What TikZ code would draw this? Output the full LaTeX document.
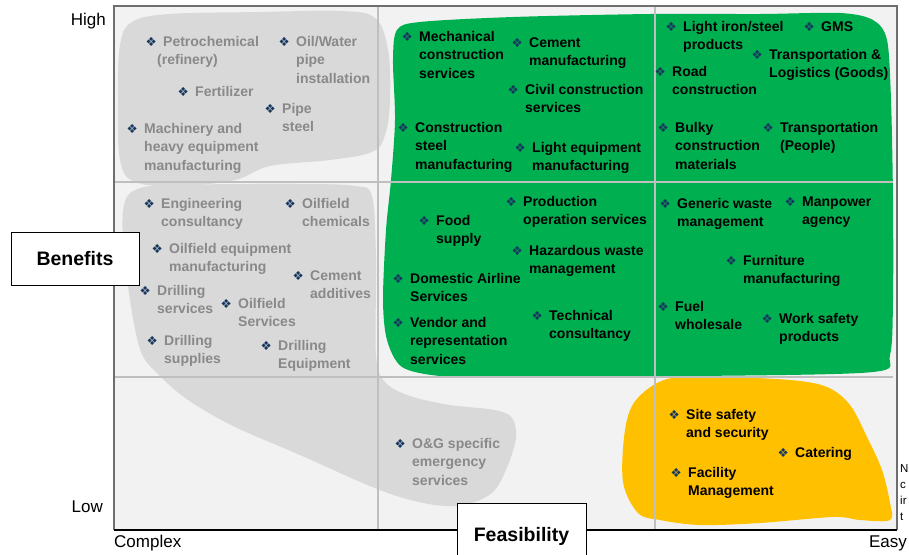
\documentclass[tikz,border=0pt]{standalone}
\usepackage{fontspec}
\setmainfont{Liberation Sans}
\newfontfamily\bulfont{DejaVu Sans}
\definecolor{plotbg}{HTML}{F2F2F2}
\definecolor{gridc}{HTML}{BFBFBF}
\definecolor{frame}{HTML}{6E6E6E}
\definecolor{blobgray}{HTML}{D9D9D9}
\definecolor{blobgreen}{HTML}{00B050}
\definecolor{blobyellow}{HTML}{FFC000}
\definecolor{graytxt}{HTML}{898989}
\definecolor{bulblue}{HTML}{17375E}
\newcommand\itm[5]{%
  \node[#4, anchor=base west] (#1) at (#2,#3) {\begin{tabular}[t]{@{}l@{}}#5\end{tabular}};
  \node[bul, anchor=base east] (#1-b) at ([xshift=-6pt]#1.base west) {❖};
}
\begin{document}
\begin{tikzpicture}[x=1pt,y=-1pt,
  gi/.style={inner sep=0pt, text=graytxt, font=\fontsize{14}{18.5}\selectfont\bfseries},
  bi/.style={inner sep=0pt, text=black, font=\fontsize{14}{18.5}\selectfont\bfseries},
  bul/.style={inner sep=0pt, text=bulblue, font=\fontsize{12.5}{14}\bulfont},
  axl/.style={inner sep=0pt, font=\fontsize{17}{20}\selectfont},
  titlebox/.style={draw=black, fill=white, line width=0.8pt, inner sep=0pt,
    font=\fontsize{19.5}{22}\selectfont\bfseries},
  gridline/.style={draw=gridc, line width=1.1pt}]
\useasboundingbox (0,0) rectangle (909,554);
\clip (0,0) rectangle (909,554);

% plot area
\fill[plotbg] (114,6) rectangle (897,530);

% blobs
\fill[blobgray] plot[smooth cycle, tension=0.6] coordinates {
  (120,45) (132,22) (170,14) (260,12) (340,11) (375,18) (388,50) (390,100)
  (385,135) (372,152) (330,160) (270,166) (235,180) (180,186) (135,182) (120,160) (118,100)};
\fill[blobgray] plot[smooth cycle, tension=0.55] coordinates {
  (135,190) (170,185) (300,184) (355,186) (372,196) (376,260) (376,355) (385,382)
  (410,396) (450,405) (495,410) (512,418) (516,437) (508,465) (493,492) (465,505)
  (435,505) (400,497) (365,484) (300,455) (233,426) (188,400) (160,376) (141,352)
  (130,300) (123,240) (124,205)};
\fill[blobgreen] plot[smooth cycle, tension=0.5] coordinates {
  (397,30) (420,22) (513,17) (650,14) (760,14) (840,13) (873,20) (887,40) (891,100)
  (893,200) (893,300) (890,355) (873,372) (700,376) (500,377) (440,376) (402,367)
  (387,340) (383,300) (386,230) (391,180) (395,120) (393,60)};
\fill[blobyellow] plot[smooth cycle, tension=0.55] coordinates {
  (667,379) (720,377) (790,380) (827,387) (850,405) (867,437) (882,470) (890,503)
  (890,520) (860,520) (833,517) (760,523) (700,525) (660,520) (638,513) (623,482)
  (625,430) (636,400)};

% grid lines
\draw[gridline] (378,6) -- (378,530);
\draw[gridline] (655,6) -- (655,530);
\draw[gridline] (114,182) -- (893,182);
\draw[gridline] (114,377) -- (893,377);

% frame
\draw[frame, line width=1.3pt] (114,530) -- (114,6) -- (897,6) -- (897,530);
\draw[black, line width=1.3pt] (114,530) -- (897,530);

% gray items, top-left
\itm{petro}{163}{46}{gi}{Petrochemical\\\hspace*{-6pt}(refinery)}
\itm{oilw}{296}{46}{gi}{Oil/Water\\pipe\\installation}
\itm{fert}{195}{96}{gi}{Fertilizer}
\itm{pipe}{282}{113}{gi}{Pipe\\steel}
\itm{mach}{144}{133}{gi}{Machinery and\\heavy equipment\\manufacturing}
% gray items, middle-left
\itm{eng}{161}{208}{gi}{Engineering\\consultancy}
\itm{oilc}{302}{208}{gi}{Oilfield\\chemicals}
\itm{oileq}{169}{253}{gi}{Oilfield equipment\\manufacturing}
\itm{cema}{310}{280}{gi}{Cement\\additives}
\itm{drs}{157}{295}{gi}{Drilling\\services}
\itm{oils}{238}{308}{gi}{Oilfield\\Services}
\itm{drsup}{164}{345}{gi}{Drilling\\supplies}
\itm{dreq}{278}{350}{gi}{Drilling\\Equipment}
\itm{og}{412}{448}{gi}{O\&G specific\\emergency\\services}

% green items
\itm{mech}{419}{41}{bi}{Mechanical\\construction\\services}
\itm{cemm}{529}{47}{bi}{Cement\\manufacturing}
\itm{civil}{525}{94}{bi}{Civil construction\\services}
\itm{cst}{415}{132}{bi}{Construction\\steel\\manufacturing}
\itm{lteq}{532}{152}{bi}{Light equipment\\manufacturing}
\itm{liron}{683}{31}{bi}{Light iron/steel\\products}
\itm{gms}{821}{31}{bi}{GMS}
\itm{trg}{769}{59}{bi}{Transportation \&\\Logistics (Goods)}
\itm{road}{672}{76}{bi}{Road\\construction}
\itm{bulky}{675}{132}{bi}{Bulky\\construction\\materials}
\itm{trp}{780}{132}{bi}{Transportation\\(People)}
\itm{food}{436}{225}{bi}{Food\\supply}
\itm{prod}{523}{206}{bi}{Production\\operation services}
\itm{haz}{529}{255}{bi}{Hazardous waste\\management}
\itm{air}{410}{283}{bi}{Domestic Airline\\Services}
\itm{vend}{410}{327}{bi}{Vendor and\\representation\\services}
\itm{tech}{549}{320}{bi}{Technical\\consultancy}
\itm{gen}{677}{208}{bi}{Generic waste\\management}
\itm{man}{802}{206}{bi}{Manpower\\agency}
\itm{furn}{743}{265}{bi}{Furniture\\manufacturing}
\itm{fuel}{675}{311}{bi}{Fuel\\wholesale}
\itm{work}{779}{323}{bi}{Work safety\\products}

% yellow items
\itm{site}{686}{419}{bi}{Site safety\\and security}
\itm{cat}{795}{457}{bi}{Catering}
\itm{fac}{688}{477}{bi}{Facility\\Management}

% axis labels
\node[axl, anchor=base east] (high) at (106,25) {High};
\node[axl, anchor=base east] (low) at (103,512) {Low};
\node[axl, anchor=base west] (cplx) at (114,547) {Complex};
\node[axl, anchor=base east] (easy) at (907,547) {Easy};

% title boxes
\node[titlebox, minimum width=128pt, minimum height=53pt] (ben) at (75,258.5) {Benefits};
\node[titlebox, minimum width=129pt, minimum height=66pt] (feas) at (521.5,536) {Feasibility};

% note fragment at right edge (as much as the reference shows)
\node[inner sep=0pt, anchor=base west, font=\fontsize{11.5}{16}\selectfont] (note) at (900,472)
  {\begin{tabular}[t]{@{}l@{}}N\\c\\ir\\t\end{tabular}};
\end{tikzpicture}
\end{document}
